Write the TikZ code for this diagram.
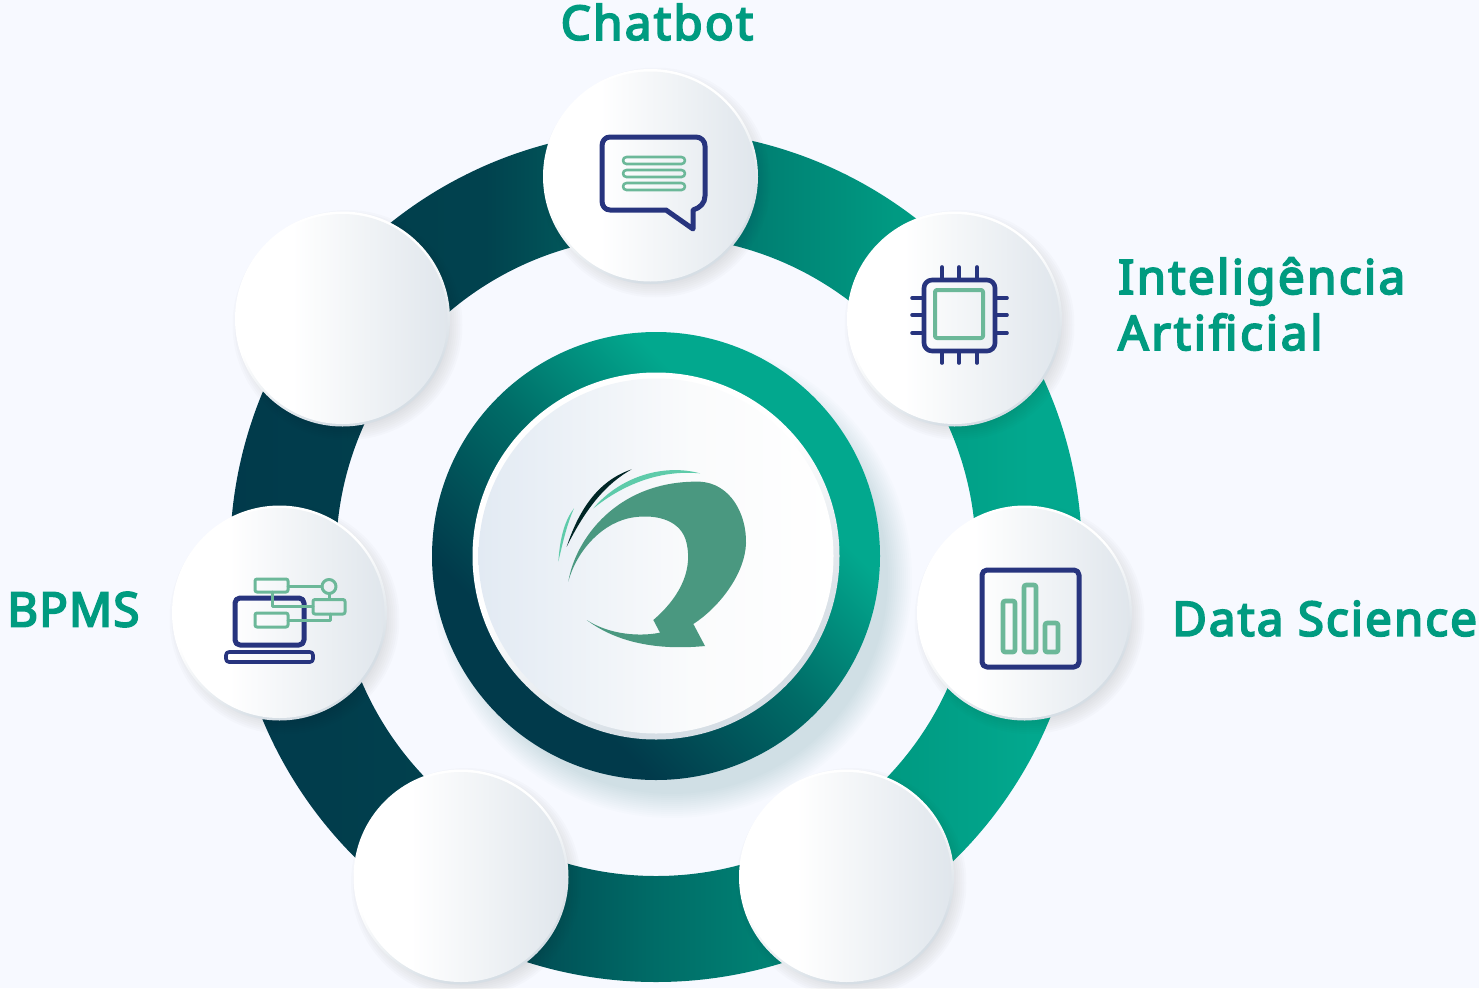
\documentclass[tikz,border=0pt]{standalone}
\usepackage{fontspec}
\setmainfont{Noto Sans}
\newfontfamily\ttlfont[FakeBold=4,LetterSpace=5]{Noto Sans}
\definecolor{bgc}{HTML}{F7F9FF}
\definecolor{navy}{HTML}{27347E}
\definecolor{leaf}{HTML}{6CB899}
\definecolor{logoc}{HTML}{4A9880}
\definecolor{swoosh}{HTML}{5ECBAA}
\definecolor{ttl}{HTML}{009B80}
\definecolor{rdark}{HTML}{013A4B}
\definecolor{rdarkb}{HTML}{01424E}
\definecolor{rmid}{HTML}{006C67}
\definecolor{rgreen}{HTML}{009A82}
\definecolor{rlight}{HTML}{02A88E}
\definecolor{bubr}{HTML}{E0E6EC}
\definecolor{rimd}{HTML}{D6DEE5}
\definecolor{dl}{HTML}{E2EAF3}
\definecolor{dm}{HTML}{FAFBFC}
\pgfdeclarehorizontalshading{ringgrad}{100bp}{
 color(0bp)=(rdark); color(25bp)=(rdark); color(40bp)=(rdarkb); color(50bp)=(rmid);
 color(64bp)=(rgreen); color(72bp)=(rlight); color(100bp)=(rlight)}
\pgfdeclarehorizontalshading{innergrad}{100bp}{
 color(0bp)=(rdark); color(32bp)=(rdark); color(50bp)=(rmid); color(66bp)=(rlight); color(100bp)=(rlight)}
\pgfdeclarehorizontalshading{bubblegrad}{100bp}{
 color(0bp)=(white); color(38bp)=(white); color(75bp)=(bubr); color(100bp)=(bubr)}
\pgfdeclarehorizontalshading{discgrad}{100bp}{
 color(0bp)=(dl); color(25bp)=(dl); color(55bp)=(dm); color(75bp)=(white); color(100bp)=(white)}
\pgfdeclarehorizontalshading{rimgrad}{100bp}{
 color(0bp)=(white); color(45bp)=(white); color(70bp)=(rimd); color(100bp)=(rimd)}
\tikzset{
 rimdisc/.style={circle,draw=none,shading=rimgrad,shading angle=-60,inner sep=0pt},
 bubble/.style={circle,draw=none,shading=bubblegrad,inner sep=0pt,minimum size=210pt},
 ttlnode/.style={text=ttl,font=\ttlfont\fontsize{47.5}{57}\selectfont,inner sep=0pt,align=left},
 navyline/.style={draw=navy,line width=5pt,line join=round,line cap=round},
 leafline/.style={draw=leaf,line width=3.6pt,line join=round,line cap=round},
}
\newcommand{\softshadow}[6]{% x y r colour spread opacity
 \foreach \k in {0,2,...,#5}{\fill[#4,fill opacity=#6] (#1,#2) circle ({#3-4+\k});}
}
\newcommand{\bubblenode}[3]{%
 \softshadow{#2+5}{#3+6}{105}{black!60!gray}{14}{0.016}
 \node[rimdisc,minimum size=215pt] (#1rim) at (#2,#3) {};
 \node[bubble] (#1) at (#2,#3) {};
}
\begin{document}
\begin{tikzpicture}[x=1pt,y=-1pt]
\useasboundingbox (0,0) rectangle (1479,988);
\fill[bgc] (0,0) rectangle (1479,988);
% outer ring
\path[shading=ringgrad,even odd rule] (656,556) circle (426) (656,556) circle (320);
% inner ring
\softshadow{672}{578}{220}{teal}{24}{0.011}
\path[shading=innergrad,shading angle=45] (656,556) circle (224);
% disc
\node[rimdisc,minimum size=367pt] (corerim) at (656,556) {};
\node[circle,draw=none,shading=discgrad,inner sep=0pt,minimum size=355pt] (core) at (656,556) {};
% bubbles
\bubblenode{chat}{650.5}{176.5}
\bubblenode{ai}{954.5}{319}
\bubblenode{data}{1024.5}{613}
\bubblenode{lr}{846.5}{877}
\bubblenode{ll}{461}{877}
\bubblenode{bpms}{279.5}{613}
\bubblenode{ul}{342.5}{319}
% logo
\begin{scope}[shift={(530,440)},x=0.33333pt,y=-0.33333pt]
\fill[logoc] (115,425) .. controls (135,300) and (260,120) .. (510,125)
 .. controls (600,130) and (650,220) .. (648,310)
 .. controls (645,400) and (570,500) .. (490,552)
 -- (525,618) .. controls (400,630) and (270,615) .. (170,540)
 .. controls (240,585) and (330,590) .. (390,578)
 -- (370,540) .. controls (440,480) and (490,400) .. (470,310)
 .. controls (455,240) and (380,222) .. (310,232)
 .. controls (220,245) and (140,330) .. (115,425) -- cycle;
\fill[swoosh] (190,205) .. controls (270,110) and (400,70) .. (510,100)
 .. controls (400,90) and (290,125) .. (190,205) -- cycle;
\fill[black!70!teal] (110,320) .. controls (150,200) and (210,120) .. (305,88)
 .. controls (230,130) and (170,200) .. (110,320) -- cycle;
\fill[swoosh] (85,365) .. controls (90,290) and (105,240) .. (132,205)
 .. controls (112,250) and (100,300) .. (85,365) -- cycle;
\end{scope}
% chat icon
\draw[navyline] (610,137) -- (696,137) .. controls (701,137) and (705,141) .. (705,146)
 -- (705,196) .. controls (705,203) and (700,208) .. (693,210) -- (693,229) -- (666,210)
 -- (610,210) .. controls (605,210) and (602,206) .. (602,201) -- (602,146)
 .. controls (602,141) and (605,137) .. (610,137) -- cycle;
\foreach \yy in {157,170,183}{
 \draw[leafline,line width=2.6pt,rounded corners=3.5pt] (623,\yy) rectangle (685,\yy+7);
}
% chip icon
\draw[navyline,line width=4.6pt,rounded corners=8pt] (924,280) rectangle (995,351);
\draw[leafline,line width=4pt,rounded corners=2pt] (935,290) rectangle (983,338);
\foreach \p in {942,959,977}{
 \draw[navyline,line width=3.6pt] (\p,267) -- (\p,279);
 \draw[navyline,line width=3.6pt] (\p,351) -- (\p,363);
}
\foreach \p in {298,315,333}{
 \draw[navyline,line width=3.6pt] (912,\p) -- (923,\p);
 \draw[navyline,line width=3.6pt] (996,\p) -- (1007,\p);
}
% data icon
\draw[navyline,rounded corners=5pt] (982,570) rectangle (1079,667);
\draw[leafline,line width=4.6pt,rounded corners=2pt] (1003,601) rectangle (1015,652);
\draw[leafline,line width=4.6pt,rounded corners=2pt] (1024,585) rectangle (1036,652);
\draw[leafline,line width=4.6pt,rounded corners=2pt] (1045,623) rectangle (1058,652);
% bpms icon
\draw[navyline,rounded corners=5pt] (235,598) rectangle (304,645);
\draw[navyline,line width=3.6pt,rounded corners=3pt] (226,652) rectangle (313,662);
\draw[leafline,line width=3pt] (272,592) -- (272,606.5) -- (313,606.5);
\draw[leafline,line width=3pt] (288,586) -- (322,586);
\draw[leafline,line width=3pt] (329,594) -- (329,599);
\draw[leafline,line width=3pt] (288,620) -- (330,620) -- (330,614);
\draw[leafline,line width=3pt,rounded corners=2pt] (255,579) rectangle (288,592);
\draw[leafline,line width=3pt,rounded corners=2pt] (313,599.5) rectangle (345,614);
\draw[leafline,line width=3pt,rounded corners=2pt] (255,613) rectangle (288,627);
\draw[leafline,line width=3pt] (329,586.5) circle (7);
% labels
\node[ttlnode,anchor=center] (l1) at (657,22) {Chatbot};
\node[ttlnode,anchor=west] (l2) at (1118,304) {Inteligência\\[-1pt]{\addfontfeature{LetterSpace=5.9}Artificial}};
\node[ttlnode,anchor=west] (l3) at (1172,618.5) {\addfontfeature{LetterSpace=4.3}Data Science};
\node[ttlnode,anchor=west] (l4) at (7,609.5) {\addfontfeature{LetterSpace=2.4}BPMS};
\end{tikzpicture}
\end{document}
